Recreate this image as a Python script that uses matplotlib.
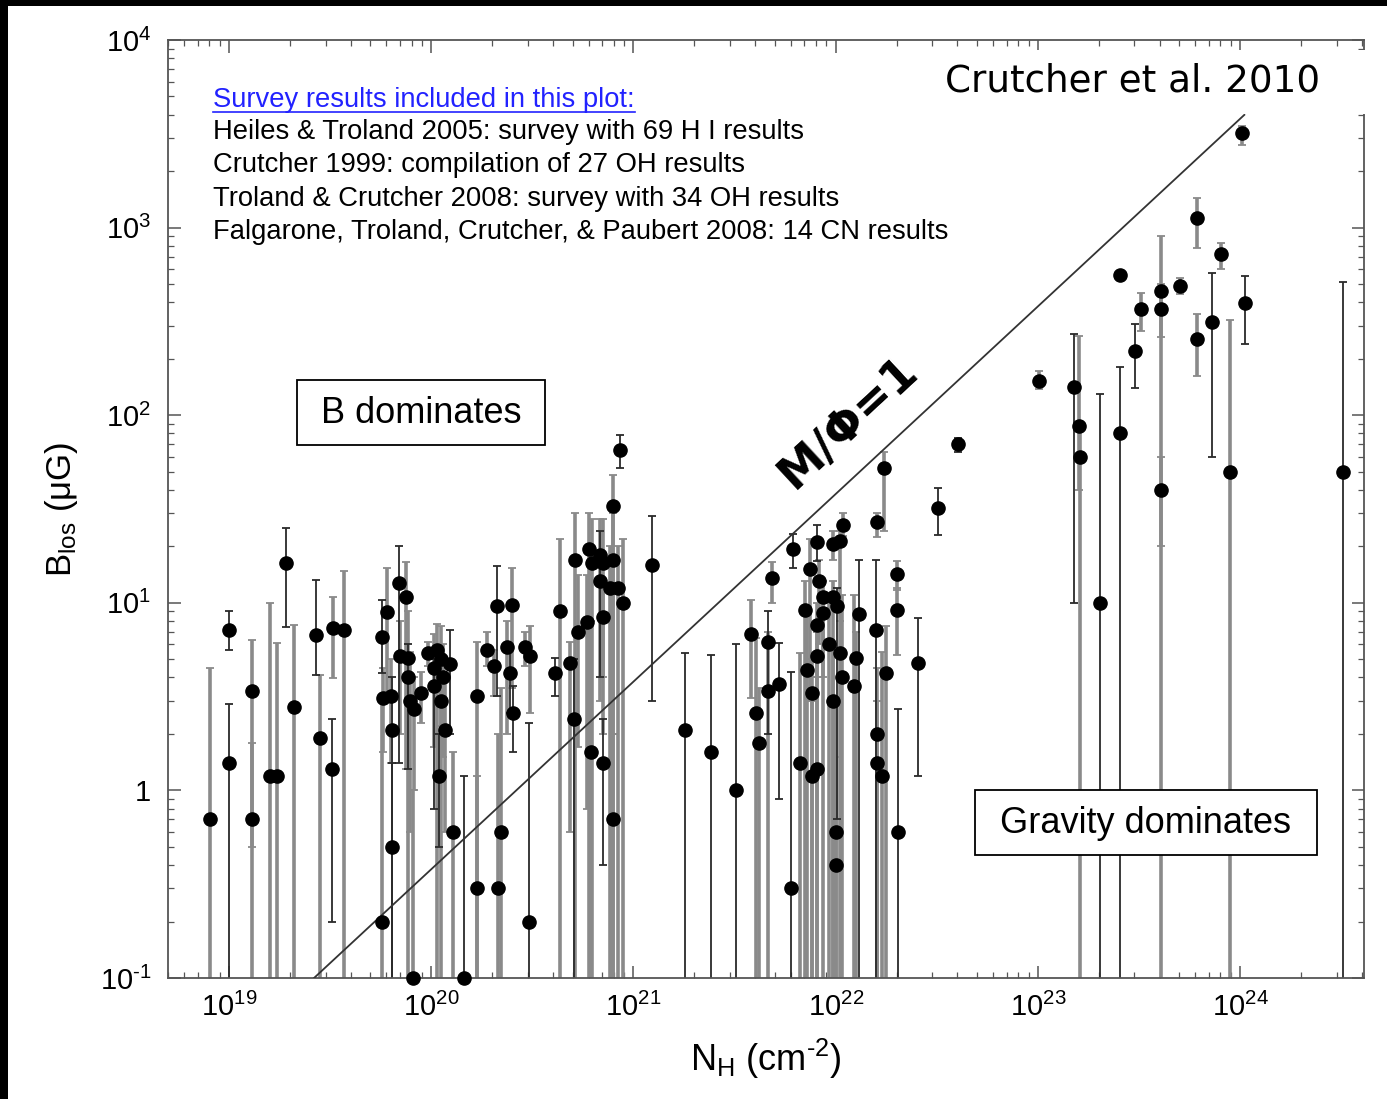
import numpy as np
import matplotlib
matplotlib.use("Agg")
import matplotlib.pyplot as plt
from matplotlib.patches import Rectangle
from matplotlib.lines import Line2D

plt.rcParams['font.family'] = ['Liberation Sans', 'DejaVu Sans']
plt.rcParams['mathtext.fontset'] = 'custom'
plt.rcParams['mathtext.rm'] = 'Liberation Sans'
plt.rcParams['mathtext.it'] = 'Liberation Sans:italic'
plt.rcParams['mathtext.bf'] = 'Liberation Sans:bold'

# log10 of column density N_H (cm^-2)
log_nh = [
    18.906, 19.000, 19.000, 19.114, 19.114, 19.203, 19.237, 19.282, 19.321, 19.430,
    19.450, 19.514, 19.509, 19.569, 19.757, 19.757, 19.781, 19.762, 19.801, 19.806,
    19.806, 19.841, 19.875, 19.846, 19.885, 19.885, 19.895, 19.915, 19.950, 19.910,
    19.984, 20.029, 20.014, 20.014, 20.049, 20.058, 20.093, 20.049, 20.068, 20.039,
    20.108, 20.162, 20.227, 20.227,
    20.276, 20.311, 20.325, 20.330, 20.345, 20.375, 20.400, 20.390, 20.405, 20.464,
    20.489, 20.484, 20.612, 20.637, 20.686, 20.706, 20.711, 20.726, 20.771, 20.780,
    20.795, 20.790, 20.835, 20.835, 20.850, 20.850, 20.850, 20.899, 20.899, 20.884,
    20.924, 20.899, 20.934, 20.949, 21.092, 21.255,
    21.384, 21.507, 21.582, 21.606, 21.621, 21.666, 21.666, 21.685, 21.720, 21.779,
    21.789, 21.824, 21.849, 21.859, 21.873, 21.883, 21.883, 21.908, 21.908, 21.908,
    21.908, 21.918, 21.938, 21.938, 21.967, 21.987, 21.987, 22.007, 21.987, 22.022,
    22.002, 22.002, 22.022, 22.032, 22.037, 22.091, 22.101, 22.116, 22.200, 22.205,
    22.205, 22.229, 22.205, 22.239, 22.249, 22.304, 22.304, 22.309, 22.408, 22.506,
    22.605,
    23.006, 23.406, 23.179, 23.204, 23.209, 23.308, 23.406, 23.481, 23.510, 23.609,
    23.609, 23.609, 23.703, 23.787, 23.787, 23.861, 23.906, 23.950, 24.010, 24.025,
    24.509,
]

# B_los in microgauss
b_los = [
    0.7, 7.2, 1.4, 3.4, 0.7, 1.2, 1.2, 16.2, 2.8, 6.7,
    1.9, 7.3, 1.3, 7.2, 6.6, 0.2, 8.9, 3.1, 3.2, 2.1,
    0.5, 12.8, 10.7, 5.2, 5.1, 4.0, 3.0, 2.7, 3.3, 0.1,
    5.4, 5.6, 4.5, 3.6, 5.0, 4.0, 4.7, 3.0, 2.1, 1.2,
    0.6, 0.1, 3.2, 0.3,
    5.6, 4.6, 9.6, 0.3, 0.6, 5.8, 9.7, 4.2, 2.6, 5.8,
    5.2, 0.2, 4.2, 9.0, 4.8, 2.4, 17, 7.0, 7.9, 19.3,
    16.2, 1.6, 18, 13, 16.2, 8.4, 1.4, 33, 17, 12,
    12, 0.7, 65, 10, 16, 2.1,
    1.6, 1.0, 6.8, 2.6, 1.8, 6.2, 3.4, 13.5, 3.7, 0.3,
    19.3, 1.4, 9.1, 4.4, 15.1, 3.3, 1.2, 21, 7.6, 5.2,
    1.3, 13, 10.8, 8.8, 6.0, 10.8, 20.7, 9.6, 3.0, 21.3,
    0.6, 0.4, 5.4, 4.0, 26, 3.6, 5.1, 8.7, 7.2, 2.0,
    1.4, 1.2, 27, 52, 4.2, 14.2, 9.2, 0.6, 4.75, 32,
    70,
    153, 556, 141, 88, 60, 10, 80, 221, 366, 457,
    366, 40, 486, 1120, 254, 312, 720, 50, 3180, 395,
    50,
]

# upper end of the error bar
b_hi = [
    4.5, 9.0, 2.9, 6.3, 1.8, 10, 6.1, 25, 7.6, 13.3,
    4.1, 10.8, 2.4, 14.7, 10.3, 3.0, 15.4, 4.5, 5.0, 4.0,
    1.4, 20, 16.5, 8.0, 9.0, 6.0, 5.5, 4.0, 4.3, 1.0,
    6.2, 7.7, 6.8, 5.0, 7.5, 6.0, 7.2, 4.5, 4.0, 2.0,
    1.6, 1.2, 6.2, 1.2,
    7.0, 5.6, 15.8, 2.0, 3.5, 8.0, 15.4, 5.8, 3.6, 7.0,
    7.5, 2.3, 5.1, 22, 6.2, 5.0, 30, 14, 14, 30,
    28, 8, 28, 24, 28, 12, 2.4, 48, 30, 20,
    20, 2.0, 78, 22, 29, 5.4,
    5.3, 6.0, 10.4, 6.5, 3.5, 9.0, 7.0, 16.4, 6.1, 4.3,
    23.4, 5.4, 13, 9.0, 22, 5.0, 3.0, 26, 10, 7.0,
    4.0, 17, 13, 11, 11, 13, 24, 12, 6, 24,
    3.0, 1.5, 8, 11, 30, 11, 7, 17, 17, 4.5,
    3.0, 5.5, 30, 64, 7.5, 16.8, 12, 2.7, 8.3, 41,
    76,
    172, 580, 272, 265, 90, 130, 180, 305, 450, 900,
    500, 60, 540, 1430, 345, 570, 830, 320, 3500, 550,
    510,
]

# lower end of the error bar (0 = runs off the bottom of the plot)
b_lo = [
    0, 5.6, 0, 0, 0.5, 0, 0, 7.4, 0, 4.1,
    0, 3.95, 0.2, 0, 4.2, 0, 3.1, 1.6, 1.4, 0,
    0, 1.4, 1.3, 2.0, 0, 1.3, 0.6, 1.0, 2.3, 0,
    4.6, 0, 1.7, 0.8, 2.2, 1.5, 2.0, 0, 0.6, 0.5,
    0, 0, 0, 0,
    4.6, 3.2, 3.2, 0, 0, 2.0, 3.5, 2.6, 1.6, 4.6,
    2.6, 0, 3.2, 0, 0.6, 0, 0, 1.7, 0.8, 0,
    0, 0, 3.0, 4.0, 2.0, 4.0, 0.4, 0, 2.0, 0,
    0, 0, 52, 0, 3.0, 0,
    0, 0, 3.1, 0, 0, 2.0, 0, 10, 0.9, 0,
    15.4, 0, 0, 0, 3.0, 0, 0, 16.8, 4.0, 0,
    0, 6.0, 0, 4.0, 0, 0, 17, 0.7, 0, 8.0,
    0, 0, 0, 0, 22.6, 0, 0, 0, 0, 0,
    0, 0, 22.5, 24, 0, 11.7, 5.3, 0, 1.2, 23,
    64,
    138, 530, 10, 40, 0, 0, 0, 140, 280, 0,
    260, 20, 440, 780, 162, 60, 600, 0, 2750, 240,
    0,
]

# 1 = thin dark error bar, 0 = gray error bar
dark_bar = [
    0, 1, 1, 0, 0, 0, 0, 1, 0, 1,
    0, 0, 1, 0, 1, 0, 0, 0, 0, 1,
    1, 1, 0, 0, 0, 1, 0, 0, 0, 0,
    0, 0, 0, 1, 0, 0, 1, 0, 0, 1,
    0, 1, 0, 0,
    0, 0, 1, 0, 0, 0, 0, 1, 1, 0,
    0, 1, 1, 0, 0, 1, 0, 0, 0, 0,
    0, 0, 0, 1, 0, 0, 1, 0, 0, 0,
    0, 0, 1, 0, 1, 1,
    1, 1, 0, 0, 0, 1, 0, 0, 1, 1,
    1, 0, 0, 0, 0, 0, 0, 1, 0, 0,
    0, 0, 0, 0, 0, 0, 0, 1, 0, 0,
    0, 0, 0, 0, 0, 0, 0, 1, 1, 0,
    0, 0, 0, 0, 0, 0, 0, 1, 1, 1,
    1,
    0, 1, 1, 0, 0, 1, 1, 1, 0, 0,
    0, 0, 0, 0, 0, 1, 0, 0, 0, 1,
    1,
]

# M/Phi = 1 critical line: B = crit_ratio * N_H
crit_ratio = 3.8e-21
line_nh = [2.63e19, 1.05e24]

survey_lines = [
    "Heiles & Troland 2005: survey with 69 H I results",
    "Crutcher 1999: compilation of 27 OH results",
    "Troland & Crutcher 2008: survey with 34 OH results",
    "Falgarone, Troland, Crutcher, & Paubert 2008: 14 CN results",
]

W, H = 1387, 1099
fig = plt.figure(figsize=(W / 100, H / 100), dpi=100)
ax = fig.add_axes([168 / W, 1 - 978 / H, (1364 - 168) / W, (978 - 40) / H])

nh = 10 ** np.array(log_nh)
b = np.array(b_los, dtype=float)
hi = np.array(b_hi, dtype=float)
lo = np.array(b_lo, dtype=float)
lo = np.where(lo > 0, lo, 1e-4)
dk = np.array(dark_bar, dtype=bool)

for mask, col, lw in [(~dk, '#8a8a8a', 2.6), (dk, '#2a2a2a', 1.3)]:
    ax.errorbar(nh[mask], b[mask], yerr=[b[mask] - lo[mask], hi[mask] - b[mask]],
                fmt='none', ecolor=col, elinewidth=lw, capsize=3.2, capthick=1.3,
                zorder=2)

ax.plot(nh, b, 'o', color='black', ms=9.5, zorder=4, clip_on=False)

lx = np.array(line_nh)
ax.plot(lx, crit_ratio * lx, color='#333333', lw=1.3, zorder=3)

ax.set_xscale('log')
ax.set_yscale('log')
ax.set_xlim(10 ** 18.698, 10 ** 24.613)
ax.set_ylim(0.1, 1e4)

ax.set_xticks([1e19, 1e20, 1e21, 1e22, 1e23, 1e24])
ax.set_xticklabels([r'$10^{19}$', r'$10^{20}$', r'$10^{21}$', r'$10^{22}$',
                    r'$10^{23}$', r'$10^{24}$'])
ax.set_yticks([0.1, 1, 10, 100, 1000, 10000])
ax.set_yticklabels([r'$10^{\text{-1}}$', '1', r'$10^{1}$', r'$10^{2}$', r'$10^{3}$',
                    r'$10^{4}$'])
ax.tick_params(which='both', direction='in', top=True, right=True, color='#555555')
ax.tick_params(which='major', length=9, width=1.1, labelsize=21)
ax.tick_params(which='minor', length=4.5, width=0.9)
ax.tick_params(axis='x', which='major', pad=11)
ax.tick_params(axis='y', which='major', pad=12)
for s in ax.spines.values():
    s.set_color('#555555')
    s.set_linewidth(1.3)

ax.set_xlabel(r'N$_\mathrm{H}$ (cm$^{\text{-2}}$)', fontsize=26, labelpad=10)
ax.set_ylabel(r'B$_\mathrm{los}$ ($\mathrm{\mu}$G)', fontsize=25, labelpad=14)

def fx(px):
    return px / W

def fy(py):
    return 1 - py / H

# survey notes
title_txt = fig.text(fx(213), fy(100), "Survey results included in this plot:",
                     fontsize=19.7, color='#2222ff', va='center', ha='left')
for i, s in enumerate(survey_lines):
    fig.text(fx(213), fy(132 + 33.3 * i), s, fontsize=19.7, color='black',
             va='center', ha='left')

# white patch behind the citation, hides the top of the right spine as in the original
fig.patches.append(Rectangle((fx(935), fy(114)), fx(1372) - fx(935), fy(50) - fy(114),
                             transform=fig.transFigure, facecolor='white',
                             edgecolor='none', zorder=9))
fig.text(fx(1133), fy(81), "Crutcher et al. 2010", fontsize=26.8, family='DejaVu Sans',
         ha='center', va='center', zorder=10)

fig.text(fx(849), fy(423), "M/Φ=1", fontsize=33, family='DejaVu Sans',
         fontweight='bold', rotation=42.8, ha='center', va='center',
         rotation_mode='anchor')

# region boxes
for (x0, y0, x1, y1, label) in [(297, 380, 545, 445, "B dominates"),
                                (975, 790, 1317, 855, "Gravity dominates")]:
    fig.patches.append(Rectangle((fx(x0), fy(y1)), fx(x1) - fx(x0), fy(y0) - fy(y1),
                                 transform=fig.transFigure, facecolor='white',
                                 edgecolor='black', lw=1.3, zorder=5))
    fig.text(fx((x0 + x1) / 2), fy((y0 + y1) / 2 + 1), label, fontsize=26,
             ha='center', va='center', zorder=6)

# black frame strips from the screenshot
fig.patches.append(Rectangle((0, fy(6)), 1, 6 / H, transform=fig.transFigure,
                             facecolor='black', edgecolor='none', zorder=20))
fig.patches.append(Rectangle((0, 0), 8 / W, 1, transform=fig.transFigure,
                             facecolor='black', edgecolor='none', zorder=20))

# underline the blue heading
fig.canvas.draw()
bb = title_txt.get_window_extent()
uy = bb.y0 + 1
fig.add_artist(Line2D([bb.x0 / W, bb.x1 / W], [uy / H, uy / H], color='#2222ff',
                      lw=1.2, transform=fig.transFigure))

fig.savefig("out.png", dpi=100)
